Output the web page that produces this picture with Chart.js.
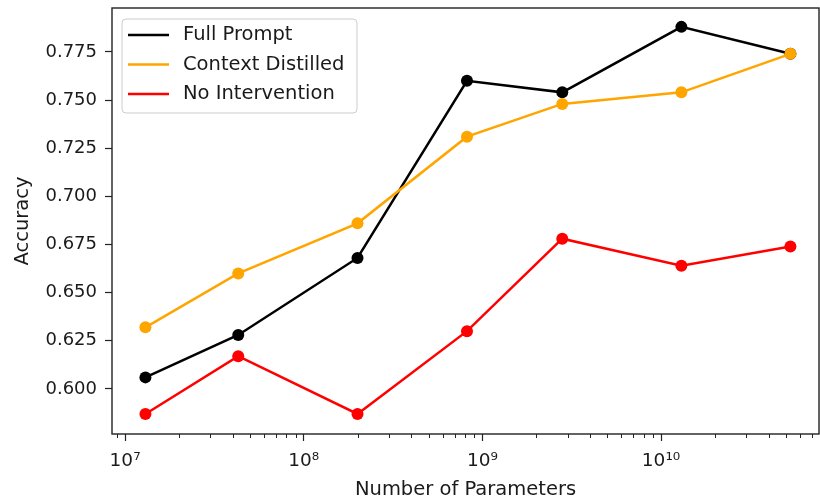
<!DOCTYPE html>
<html>
<head>
<meta charset="utf-8">
<script src="https://cdn.jsdelivr.net/npm/chart.js@4.4.1/dist/chart.umd.min.js"></script>
<style>
  body { margin: 0; background: #fff; }
  #wrap { width: 820px; height: 502px; }
</style>
</head>
<body>
<div id="wrap"><canvas id="lineChart" width="820" height="502"></canvas></div>
<script>
// values
var paramCounts = [1.3e7, 4.3e7, 2.0e8, 8.2e8, 2.8e9, 1.3e10, 5.3e10];
var fullPrompt = [0.606, 0.628, 0.668, 0.760, 0.754, 0.788, 0.774];
var contextDistilled = [0.632, 0.660, 0.686, 0.731, 0.748, 0.754, 0.774];
var noIntervention = [0.587, 0.617, 0.587, 0.630, 0.678, 0.664, 0.674];

var seriesNames = ["Full Prompt", "Context Distilled", "No Intervention"];
var seriesColors = ["#000000", "#FFA500", "#FF0000"];

var xMajorTicks = [1e7, 1e8, 1e9, 1e10];
var xTickLabels = ["10\u2077", "10\u2078", "10\u2079", "10\u00b9\u2070"];
var yTicks = [0.600, 0.625, 0.650, 0.675, 0.700, 0.725, 0.750, 0.775];

var FONT = "'DejaVu Sans', sans-serif";
var TEXT = "#1a1a1a";

function puntos(valores) {
  return paramCounts.map(function (p, i) { return { x: p, y: valores[i] }; });
}

var lineData = {
  datasets: [
    { label: seriesNames[0], data: puntos(fullPrompt), order: 3 },
    { label: seriesNames[1], data: puntos(contextDistilled), order: 2 },
    { label: seriesNames[2], data: puntos(noIntervention), order: 1 }
  ].map(function (d, i) {
    d.borderColor = seriesColors[i];
    d.backgroundColor = seriesColors[i];
    d.pointBackgroundColor = seriesColors[i];
    d.pointBorderColor = seriesColors[i];
    d.borderWidth = 2.5;
    d.pointRadius = 6;
    d.pointBorderWidth = 0;
    d.tension = 0;
    d.clip = false;
    return d;
  })
};

// frame, minor ticks and the legend box
var extras = {
  id: 'extras',
  afterDraw: function (chart) {
    var ctx = chart.ctx;
    var a = chart.chartArea;
    var xs = chart.scales.x;
    ctx.save();
    ctx.strokeStyle = "#222";
    ctx.lineWidth = 1.4;
    ctx.strokeRect(a.left, a.top, a.right - a.left, a.bottom - a.top);

    // minor ticks on log axis
    ctx.lineWidth = 1;
    for (var e = 6; e <= 10; e++) {
      for (var m = 2; m <= 9; m++) {
        var v = m * Math.pow(10, e);
        if (v < xs.min || v > xs.max) continue;
        var px = Math.round(xs.getPixelForValue(v)) + 0.5;
        ctx.beginPath();
        ctx.moveTo(px, a.bottom);
        ctx.lineTo(px, a.bottom + 4);
        ctx.stroke();
      }
    }

    // legend
    var bx = a.left + 10, by = a.top + 11, bw = 235, bh = 94;
    ctx.beginPath();
    ctx.roundRect(bx, by, bw, bh, 4);
    ctx.fillStyle = "rgba(255,255,255,0.85)";
    ctx.fill();
    ctx.strokeStyle = "#cccccc";
    ctx.lineWidth = 1;
    ctx.stroke();
    ctx.font = "19.5px " + FONT;
    ctx.textBaseline = "middle";
    chart.data.datasets.forEach(function (d, i) {
      var ry = by + 16 + i * 29.5;
      ctx.strokeStyle = d.borderColor;
      ctx.lineWidth = 2.5;
      ctx.beginPath();
      ctx.moveTo(bx + 6, ry);
      ctx.lineTo(bx + 47, ry);
      ctx.stroke();
      ctx.fillStyle = TEXT;
      ctx.fillText(d.label, bx + 61, ry);
    });
    ctx.restore();
  }
};

var lineOptions = {
  responsive: false,
  animation: false,
  layout: { autoPadding: false, padding: { top: 8, right: 1, left: 0, bottom: 0 } },
  plugins: { legend: { display: false }, tooltip: { enabled: false } },
  scales: {
    x: {
      type: 'logarithmic',
      min: 8.45e6,
      max: 7.66e10,
      afterBuildTicks: function (s) { s.ticks = xMajorTicks.map(function (v) { return { value: v }; }); },
      afterFit: function (s) { s.height = 68; s.paddingLeft = 0; s.paddingRight = 0; },
      border: { display: false },
      grid: { drawOnChartArea: false, tickLength: 7, tickColor: "#222", tickWidth: 1.2 },
      ticks: {
        autoSkip: false, maxRotation: 0, padding: 9,
        color: TEXT, font: { family: FONT, size: 18.5 },
        callback: function (v) { return xTickLabels[xMajorTicks.indexOf(v)]; }
      },
      title: {
        display: true, text: "Number of Parameters", color: TEXT,
        font: { family: FONT, size: 19.5 }, padding: { top: 0, bottom: 0 }
      }
    },
    y: {
      min: 0.5766,
      max: 0.7978,
      afterBuildTicks: function (s) { s.ticks = yTicks.map(function (v) { return { value: v }; }); },
      afterFit: function (s) { s.width = 112; s.paddingTop = 0; s.paddingBottom = 0; },
      border: { display: false },
      grid: { drawOnChartArea: false, tickLength: 7, tickColor: "#222", tickWidth: 1.2 },
      ticks: {
        autoSkip: false, padding: 8,
        color: TEXT, font: { family: FONT, size: 18 },
        callback: function (v) { return Number(v).toFixed(3); }
      },
      title: {
        display: true, text: "Accuracy", color: TEXT,
        font: { family: FONT, size: 19.5 }, padding: { top: 11, bottom: 0 }
      }
    }
  }
};

var ctx2 = document.getElementById("lineChart").getContext("2d");
var myLineChart = new Chart(ctx2, { type: 'line', data: lineData, options: lineOptions, plugins: [extras] });
</script>
</body>
</html>
